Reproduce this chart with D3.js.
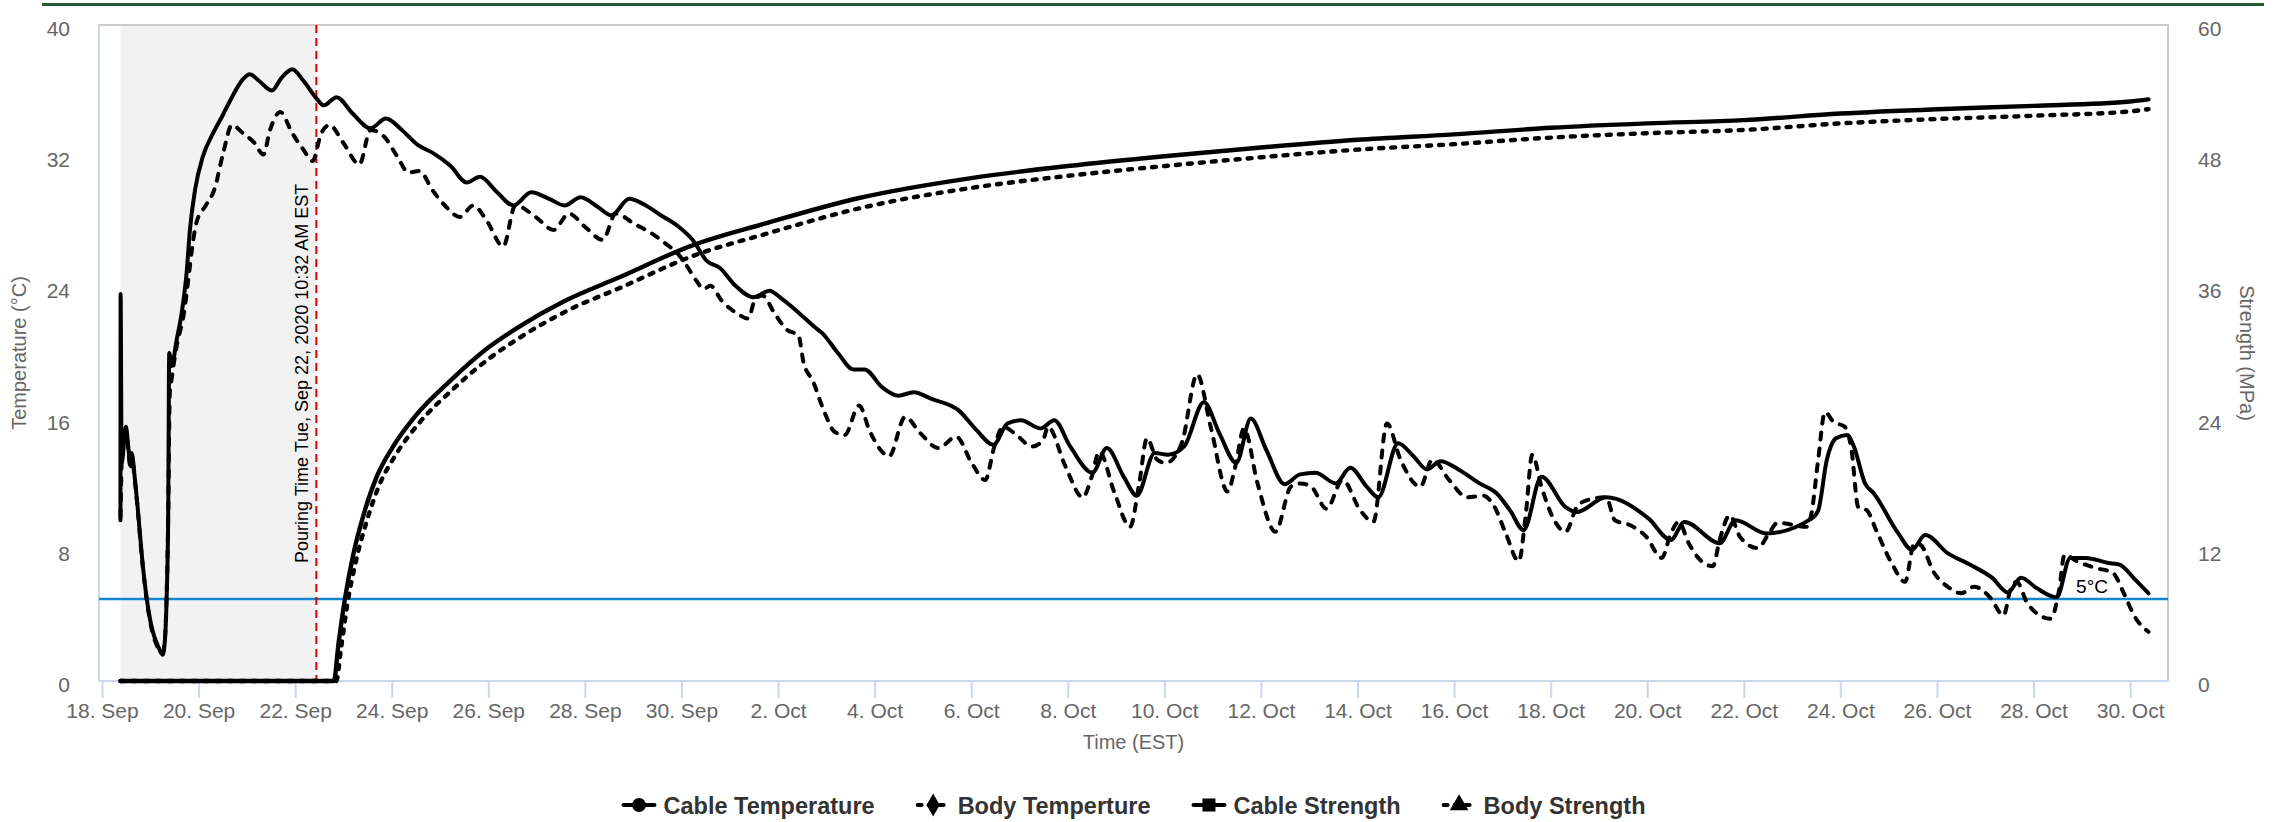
<!DOCTYPE html>
<html><head><meta charset="utf-8">
<script src="https://cdn.jsdelivr.net/npm/d3@7/dist/d3.min.js"></script>
<style>
html,body{margin:0;padding:0;background:#fff;}
svg{display:block;font-family:"Liberation Sans",Arial,Helvetica,sans-serif;}
</style></head><body>
<svg id="chart" width="2286" height="822"></svg>
<script>
// ---------------- DATA ----------------
const xTickDates = ["2020-09-18","2020-09-20","2020-09-22","2020-09-24","2020-09-26","2020-09-28","2020-09-30",
  "2020-10-02","2020-10-04","2020-10-06","2020-10-08","2020-10-10","2020-10-12","2020-10-14","2020-10-16",
  "2020-10-18","2020-10-20","2020-10-22","2020-10-24","2020-10-26","2020-10-28","2020-10-30"];
const xDomain = ["2020-09-17 22:30", "2020-10-30 18:50"];
const tempTicks = [0, 8, 16, 24, 32, 40];
const strengthTicks = [0, 12, 24, 36, 48, 60];
const seriesNames = ["Cable Temperature", "Body Temperture", "Cable Strength", "Body Strength"];
const pouringTime = "2020-09-22 10:32";
const pouringLabel = "Pouring Time Tue, Sep 22, 2020 10:32 AM EST";
const bandStart = "2020-09-18 09:10";
const thresholdTemp = 5;
const thresholdLabel = "5°C";

const cableTemperature = [
["2020-09-18 09:10",9.8],["2020-09-18 09:14",23.6],["2020-09-18 09:45",13.3],["2020-09-18 11:53",15.5],
["2020-09-18 13:02",14.3],["2020-09-18 14:12",13.1],["2020-09-18 14:43",13.9],["2020-09-18 16:21",12.3],
["2020-09-18 18:00",10.2],["2020-09-18 19:41",7.8],["2020-09-18 22:09",5.1],["2020-09-19 00:39",3.3],
["2020-09-19 03:56",2.1],["2020-09-19 06:07",1.6],["2020-09-19 07:16",2.5],["2020-09-19 08:07",5.1],
["2020-09-19 08:54",10.2],["2020-09-19 09:24",20.0],["2020-09-19 10:35",19.2],["2020-09-19 13:05",20.8],
["2020-09-19 15:33",22.4],["2020-09-19 18:03",24.9],["2020-09-19 19:41",27.5],["2020-09-19 22:19",30.0],
["2020-09-20 02:10",32.0],["2020-09-20 07:12",33.4],["2020-09-20 12:00",34.5],["2020-09-20 16:34",35.6],
["2020-09-20 22:05",36.7],["2020-09-21 01:26",37.0],["2020-09-21 06:00",36.6],["2020-09-21 12:29",36.0],
["2020-09-21 17:02",36.75],["2020-09-21 22:34",37.3],["2020-09-22 04:05",36.6],["2020-09-22 10:48",35.5],
["2020-09-22 14:10",35.1],["2020-09-22 20:38",35.6],["2020-09-23 04:34",34.6],["2020-09-23 13:26",33.7],
["2020-09-23 21:07",34.3],["2020-09-24 05:02",33.6],["2020-09-24 12:43",32.7],["2020-09-24 20:24",32.2],
["2020-09-25 05:17",31.4],["2020-09-25 13:12",30.4],["2020-09-25 19:55",30.75],["2020-09-26 03:36",29.9],
["2020-09-26 12:29",29.0],["2020-09-26 21:22",29.8],["2020-09-27 06:14",29.4],["2020-09-27 13:55",29.0],
["2020-09-27 21:50",29.5],["2020-09-28 06:29",28.9],["2020-09-28 13:12",28.4],["2020-09-28 22:05",29.4],
["2020-09-29 04:48",29.1],["2020-09-29 13:41",28.4],["2020-09-29 22:34",27.7],["2020-09-30 05:31",26.9],
["2020-09-30 12:43",25.6],["2020-09-30 18:58",25.2],["2020-10-01 02:53",24.1],["2020-10-01 11:46",23.4],
["2020-10-01 19:41",23.8],["2020-10-02 01:55",23.3],["2020-10-02 10:48",22.4],["2020-10-02 18:00",21.6],
["2020-10-02 22:05",21.2],["2020-10-03 05:46",20.0],["2020-10-03 13:26",19.0],["2020-10-03 18:58",19.0],
["2020-10-04 03:50",17.9],["2020-10-04 11:46",17.4],["2020-10-04 19:26",17.6],["2020-10-05 04:19",17.2],
["2020-10-05 17:46",16.5],["2020-10-06 02:38",15.3],["2020-10-06 11:02",14.4],["2020-10-06 18:00",15.7],
["2020-10-07 00:43",15.9],["2020-10-07 10:34",15.4],["2020-10-07 17:17",15.9],["2020-10-08 01:12",14.3],
["2020-10-08 12:14",12.7],["2020-10-08 19:26",14.2],["2020-10-09 03:50",12.45],["2020-10-09 10:19",11.3],
["2020-10-09 19:12",13.9],["2020-10-10 01:55",13.8],["2020-10-10 09:50",14.3],["2020-10-10 19:41",17.0],
["2020-10-11 03:22",15.1],["2020-10-11 11:46",13.3],["2020-10-11 18:58",16.0],["2020-10-12 02:38",14.1],
["2020-10-12 11:46",12.0],["2020-10-12 19:26",12.6],["2020-10-13 03:07",12.7],["2020-10-13 13:12",12.05],
["2020-10-13 20:24",13.0],["2020-10-14 04:34",11.85],["2020-10-14 10:19",11.2],["2020-10-14 20:10",14.5],
["2020-10-15 03:50",13.7],["2020-10-15 10:34",12.9],["2020-10-15 17:17",13.4],["2020-10-16 02:10",12.9],
["2020-10-16 12:43",12.05],["2020-10-16 21:07",11.45],["2020-10-17 03:50",10.4],["2020-10-17 10:34",9.2],
["2020-10-17 19:26",12.45],["2020-10-18 07:26",10.6],["2020-10-18 12:58",10.3],["2020-10-19 03:36",11.2],
["2020-10-20 00:43",9.9],["2020-10-20 11:46",8.6],["2020-10-20 18:29",9.7],["2020-10-21 12:00",8.4],
["2020-10-21 19:55",9.8],["2020-10-22 11:17",9.0],["2020-10-23 09:36",9.9],["2020-10-23 12:58",10.4],
["2020-10-23 17:17",13.5],["2020-10-23 21:50",14.8],["2020-10-24 03:22",15.0],["2020-10-24 06:43",14.3],
["2020-10-24 12:14",12.05],["2020-10-24 16:34",11.45],["2020-10-25 04:48",9.0],["2020-10-25 11:31",8.0],
["2020-10-25 18:14",8.9],["2020-10-26 05:17",7.8],["2020-10-26 16:19",7.1],["2020-10-27 03:22",6.3],
["2020-10-27 11:17",5.4],["2020-10-27 17:46",6.3],["2020-10-28 01:41",5.65],["2020-10-28 11:31",5.1],
["2020-10-28 18:14",7.5],["2020-10-29 01:55",7.5],["2020-10-29 13:12",7.2],["2020-10-29 18:43",7.1],
["2020-10-30 02:24",6.2],["2020-10-30 09:07",5.35]
];

const bodyTemperature = [
["2020-09-18 09:10",10.0],["2020-09-18 10:20",15.0],["2020-09-18 11:53",15.2],["2020-09-18 13:02",14.1],
["2020-09-18 14:12",13.0],["2020-09-18 14:43",13.7],["2020-09-18 16:21",12.2],["2020-09-18 18:00",10.1],
["2020-09-18 19:41",7.7],["2020-09-18 22:09",5.0],["2020-09-19 00:39",3.2],["2020-09-19 03:56",2.0],
["2020-09-19 06:07",1.7],["2020-09-19 07:16",2.6],["2020-09-19 08:07",5.2],["2020-09-19 08:54",10.0],
["2020-09-19 09:40",17.5],["2020-09-19 10:35",18.4],["2020-09-19 13:05",20.4],["2020-09-19 16:48",22.5],
["2020-09-19 19:12",24.8],["2020-09-19 20:53",26.5],["2020-09-19 23:02",28.0],["2020-09-20 03:36",29.0],
["2020-09-20 07:55",30.0],["2020-09-20 12:14",32.2],["2020-09-20 16:34",33.9],["2020-09-20 22:05",33.4],
["2020-09-21 03:50",32.8],["2020-09-21 08:10",32.1],["2020-09-21 11:31",33.6],["2020-09-21 16:34",34.7],
["2020-09-21 22:34",33.4],["2020-09-22 04:05",32.4],["2020-09-22 08:38",31.7],["2020-09-22 12:58",33.4],
["2020-09-22 17:02",33.9],["2020-09-23 00:00",32.8],["2020-09-23 07:55",31.5],["2020-09-23 13:26",33.6],
["2020-09-23 20:10",33.2],["2020-09-24 02:38",32.0],["2020-09-24 08:24",31.0],["2020-09-24 13:41",31.1],
["2020-09-24 20:24",29.9],["2020-09-25 03:07",28.9],["2020-09-25 09:50",28.3],["2020-09-25 16:34",29.0],
["2020-09-25 23:02",28.1],["2020-09-26 07:26",26.5],["2020-09-26 13:26",29.0],["2020-09-26 23:31",28.3],
["2020-09-27 08:24",27.5],["2020-09-27 16:05",28.5],["2020-09-28 00:00",27.7],["2020-09-28 08:53",26.9],
["2020-09-28 15:22",28.5],["2020-09-29 00:14",27.9],["2020-09-29 10:19",27.2],["2020-09-29 15:50",26.7],
["2020-09-29 22:34",26.0],["2020-09-30 02:10",25.4],["2020-09-30 07:26",24.4],["2020-09-30 11:02",23.9],
["2020-09-30 14:24",24.1],["2020-09-30 19:55",23.2],["2020-10-01 03:50",22.4],["2020-10-01 09:07",22.1],
["2020-10-01 12:43",23.3],["2020-10-01 16:19",23.5],["2020-10-01 22:19",22.4],["2020-10-02 04:34",21.4],
["2020-10-02 10:05",21.1],["2020-10-02 12:43",19.4],["2020-10-02 17:17",18.3],["2020-10-02 23:02",16.4],
["2020-10-03 04:05",15.2],["2020-10-03 09:07",15.0],["2020-10-03 16:19",16.8],["2020-10-03 21:22",15.3],
["2020-10-04 02:53",14.1],["2020-10-04 07:12",13.7],["2020-10-04 15:07",16.1],["2020-10-04 22:48",15.1],
["2020-10-05 07:41",14.2],["2020-10-05 16:34",14.9],["2020-10-06 00:14",13.3],["2020-10-06 06:58",12.25],
["2020-10-06 11:31",14.3],["2020-10-06 15:50",15.5],["2020-10-06 21:36",15.1],["2020-10-07 06:14",14.3],
["2020-10-07 11:46",14.7],["2020-10-07 14:10",15.5],["2020-10-07 22:48",13.1],["2020-10-08 07:26",11.2],
["2020-10-08 12:00",12.5],["2020-10-08 15:36",14.0],["2020-10-08 23:17",11.45],["2020-10-09 06:58",9.4],
["2020-10-09 11:31",12.05],["2020-10-09 15:22",14.8],["2020-10-09 20:24",13.5],["2020-10-10 00:43",13.3],
["2020-10-10 08:38",14.5],["2020-10-10 16:19",18.7],["2020-10-10 23:02",15.5],["2020-10-11 07:26",11.55],
["2020-10-11 11:17",13.1],["2020-10-11 15:36",15.4],["2020-10-11 22:19",12.05],["2020-10-12 07:12",9.1],
["2020-10-12 14:53",11.85],["2020-10-12 19:26",12.05],["2020-10-13 00:58",11.85],["2020-10-13 08:38",10.5],
["2020-10-13 16:34",12.25],["2020-10-14 01:26",10.4],["2020-10-14 07:55",9.7],["2020-10-14 14:38",15.7],
["2020-10-14 21:22",13.5],["2020-10-15 07:12",11.85],["2020-10-15 13:12",13.5],["2020-10-15 21:36",12.25],
["2020-10-16 06:29",11.2],["2020-10-16 14:24",11.3],["2020-10-16 20:10",10.6],["2020-10-17 01:41",9.0],
["2020-10-17 08:10",7.3],["2020-10-17 11:31",10.0],["2020-10-17 14:53",13.8],["2020-10-17 19:26",11.85],
["2020-10-18 00:58",10.0],["2020-10-18 07:26",9.1],["2020-10-18 12:58",10.6],["2020-10-18 17:31",11.0],
["2020-10-19 03:36",11.2],["2020-10-19 07:55",9.8],["2020-10-19 15:36",9.5],["2020-10-19 23:31",8.8],
["2020-10-20 07:12",7.5],["2020-10-20 11:46",9.0],["2020-10-20 15:36",9.7],["2020-10-20 20:38",8.4],
["2020-10-21 02:10",7.4],["2020-10-21 08:38",7.0],["2020-10-21 12:00",8.6],["2020-10-21 17:02",10.1],
["2020-10-21 22:05",8.8],["2020-10-22 06:58",8.1],["2020-10-22 12:29",9.0],["2020-10-22 16:48",9.65],
["2020-10-23 07:26",9.4],["2020-10-23 09:36",10.2],["2020-10-23 12:58",13.5],["2020-10-23 16:19",16.4],
["2020-10-23 20:38",15.8],["2020-10-24 02:10",15.5],["2020-10-24 05:31",14.1],["2020-10-24 08:53",10.6],
["2020-10-24 13:12",10.4],["2020-10-24 17:46",9.2],["2020-10-25 01:26",7.2],["2020-10-25 08:10",6.05],
["2020-10-25 12:43",8.4],["2020-10-25 15:50",8.3],["2020-10-25 22:34",6.6],["2020-10-26 05:17",5.75],
["2020-10-26 12:00",5.35],["2020-10-26 18:29",5.75],["2020-10-27 02:24",5.1],["2020-10-27 09:07",4.0],
["2020-10-27 12:29",5.55],["2020-10-27 15:36",6.05],["2020-10-27 21:07",4.7],["2020-10-28 08:24",3.8],
["2020-10-28 12:43",5.55],["2020-10-28 15:22",7.7],["2020-10-28 21:36",7.3],["2020-10-29 06:29",6.9],
["2020-10-29 15:22",6.6],["2020-10-29 20:53",5.35],["2020-10-30 02:24",3.9],["2020-10-30 09:07",3.0]
];

const cableStrength = [
["2020-09-18 09:10",0],["2020-09-22 19:12",0],["2020-09-22 21:36",3.5],["2020-09-23 00:43",7.5],
["2020-09-23 04:48",11.5],["2020-09-23 10:19",15.4],["2020-09-23 16:48",18.8],["2020-09-24 00:29",21.4],
["2020-09-24 12:00",24.3],["2020-09-25 05:17",27.5],["2020-09-26 00:00",30.5],["2020-09-26 14:24",32.3],
["2020-09-27 14:24",34.8],["2020-09-28 16:48",36.9],["2020-09-30 04:48",39.8],["2020-10-01 16:48",41.8],
["2020-10-03 16:48",44.2],["2020-10-06 00:00",46.0],["2020-10-08 00:00",47.1],["2020-10-10 00:00",48.0],
["2020-10-12 00:00",48.8],["2020-10-14 00:00",49.5],["2020-10-16 00:00",50.0],["2020-10-18 00:00",50.6],
["2020-10-20 00:00",51.0],["2020-10-22 00:00",51.3],["2020-10-24 00:00",51.9],["2020-10-26 00:00",52.3],
["2020-10-28 00:00",52.6],["2020-10-30 00:00",53.0],["2020-10-30 09:07",53.2]
];

const bodyStrength = [
["2020-09-18 09:10",0],["2020-09-22 20:24",0],["2020-09-22 22:48",3.0],["2020-09-23 01:55",7.0],
["2020-09-23 06:00",10.8],["2020-09-23 11:31",14.6],["2020-09-23 18:00",18.0],["2020-09-24 01:41",20.6],
["2020-09-24 13:12",23.5],["2020-09-25 06:29",26.7],["2020-09-26 01:12",29.6],["2020-09-26 15:36",31.4],
["2020-09-27 15:36",33.9],["2020-09-28 18:00",36.0],["2020-09-30 06:00",38.9],["2020-10-01 18:00",40.9],
["2020-10-03 18:00",43.3],["2020-10-06 00:00",45.1],["2020-10-08 00:00",46.2],["2020-10-10 00:00",47.1],
["2020-10-12 00:00",47.9],["2020-10-14 00:00",48.6],["2020-10-16 00:00",49.1],["2020-10-18 00:00",49.7],
["2020-10-20 00:00",50.1],["2020-10-22 00:00",50.4],["2020-10-24 00:00",51.0],["2020-10-26 00:00",51.4],
["2020-10-28 00:00",51.7],["2020-10-30 00:00",52.1],["2020-10-30 09:07",52.3]
];

// ---------------- CHART ----------------
const parseT = d3.timeParse("%Y-%m-%d %H:%M");
const parseD = d3.timeParse("%Y-%m-%d");
const svg = d3.select("#chart");
const P = {left: 99, right: 2168, top: 25, bottom: 681};

const x = d3.scaleTime().domain(xDomain.map(parseT)).range([P.left, P.right]);
const yT = d3.scaleLinear().domain([0, 40]).range([P.bottom, P.top]);
const yS = d3.scaleLinear().domain([0, 60]).range([P.bottom, P.top]);

// top green rule
svg.append("rect").attr("x", 42).attr("y", 3).attr("width", 2222).attr("height", 3).attr("fill", "#215b38");

// plot band (before pouring)
svg.append("rect")
  .attr("x", x(parseT(bandStart))).attr("y", P.top)
  .attr("width", x(parseT(pouringTime)) - x(parseT(bandStart)))
  .attr("height", P.bottom - P.top).attr("fill", "#f2f2f2");

// plot border
svg.append("path")
  .attr("d", `M${P.left},${P.bottom}V${P.top}H${P.right}V${P.bottom}`)
  .attr("fill", "none").attr("stroke", "#cccccc").attr("stroke-width", 2);
svg.append("line").attr("x1", P.left).attr("x2", P.left).attr("y1", P.top).attr("y2", P.bottom)
  .attr("stroke", "#ccd6eb").attr("stroke-width", 2);

// threshold line
svg.append("line")
  .attr("x1", P.left).attr("x2", P.right)
  .attr("y1", yT(thresholdTemp)).attr("y2", yT(thresholdTemp))
  .attr("stroke", "#1386cf").attr("stroke-width", 2.6);
svg.append("text").attr("x", P.right - 60).attr("y", yT(thresholdTemp) - 6)
  .attr("text-anchor", "end").attr("font-size", 19).attr("fill", "#000").text(thresholdLabel);

// x axis
const xAxis = svg.append("g").attr("transform", `translate(0,${P.bottom})`)
  .call(d3.axisBottom(x).tickValues(xTickDates.map(parseD))
    .tickFormat(d3.timeFormat("%-d. %b")).tickSize(17).tickPadding(5));
xAxis.select(".domain").remove();
xAxis.selectAll(".tick line").attr("stroke", "#ccd6eb").attr("stroke-width", 2);
xAxis.selectAll(".tick text").attr("fill", "#666666").attr("font-size", 21)
  .attr("font-family", "Liberation Sans, Arial, sans-serif");
svg.append("line").attr("x1", P.left).attr("x2", P.right).attr("y1", P.bottom).attr("y2", P.bottom)
  .attr("stroke", "#ccd6eb").attr("stroke-width", 2);

// y axes
const yAxisL = svg.append("g").attr("transform", `translate(${P.left - 29},0)`)
  .call(d3.axisLeft(yT).tickValues(tempTicks).tickSize(0).tickPadding(0));
yAxisL.select(".domain").remove();
yAxisL.selectAll(".tick text").attr("fill", "#666666").attr("font-size", 21)
  .attr("dy", "0.5em").attr("font-family", "Liberation Sans, Arial, sans-serif");

const yAxisR = svg.append("g").attr("transform", `translate(${P.right + 30},0)`)
  .call(d3.axisRight(yS).tickValues(strengthTicks).tickSize(0).tickPadding(0));
yAxisR.select(".domain").remove();
yAxisR.selectAll(".tick text").attr("fill", "#666666").attr("font-size", 21)
  .attr("dy", "0.5em").attr("font-family", "Liberation Sans, Arial, sans-serif");

// axis titles
const midY = (P.top + P.bottom) / 2;
svg.append("text").attr("transform", `translate(26,${midY}) rotate(-90)`)
  .attr("text-anchor", "middle").attr("font-size", 20).attr("fill", "#666666").text("Temperature (°C)");
svg.append("text").attr("transform", `translate(2240,${midY}) rotate(90)`)
  .attr("text-anchor", "middle").attr("font-size", 20).attr("fill", "#666666").text("Strength (MPa)");
svg.append("text").attr("x", (P.left + P.right) / 2).attr("y", 749)
  .attr("text-anchor", "middle").attr("font-size", 20).attr("fill", "#666666").text("Time (EST)");

// pouring line
const px = x(parseT(pouringTime));
svg.append("line").attr("x1", px).attr("x2", px).attr("y1", P.top).attr("y2", P.bottom)
  .attr("stroke", "#e00000").attr("stroke-width", 2).attr("stroke-dasharray", "8,5");
svg.append("text").attr("transform", `translate(${px - 8},563) rotate(-90)`)
  .attr("font-size", 18).attr("fill", "#000").text(pouringLabel);

// series
const styles = [
  {data: cableTemperature, y: yT, dash: null, width: 4},
  {data: bodyTemperature, y: yT, dash: "7,9", width: 4},
  {data: cableStrength, y: yS, dash: null, width: 4.4},
  {data: bodyStrength, y: yS, dash: "4,8", width: 4.4}
];
const order = [2, 3, 0, 1];
order.forEach(i => {
  const s = styles[i];
  const line = d3.line().x(d => x(parseT(d[0]))).y(d => s.y(d[1])).curve(d3.curveMonotoneX);
  svg.append("path").datum(s.data).attr("d", line)
    .attr("fill", "none").attr("stroke", "#000").attr("stroke-width", s.width)
    .attr("stroke-linejoin", "round").attr("stroke-linecap", "round")
    .attr("stroke-dasharray", s.dash);
});

// legend
const legend = svg.append("g");
const markers = [d3.symbolCircle, d3.symbolDiamond, d3.symbolSquare, d3.symbolTriangle];
const markerSizes = [150, 150, 170, 150];
const legDash = [null, "4,7", null, "4,7"];
let cursor = 0;
const items = [];
seriesNames.forEach((name, i) => {
  const g = legend.append("g");
  g.append("line").attr("x1", 2).attr("x2", 33).attr("y1", 0).attr("y2", 0)
    .attr("stroke", "#000").attr("stroke-width", 4).attr("stroke-linecap", "round")
    .attr("stroke-dasharray", legDash[i]);
  g.append("path").attr("d", d3.symbol().type(markers[i]).size(markerSizes[i])())
    .attr("transform", "translate(17.5,0)").attr("fill", "#000");
  const t = g.append("text").attr("x", 42).attr("y", 8.5).attr("font-size", 23.5)
    .attr("font-weight", "bold").attr("fill", "#333333").text(name);
  const w = 42 + t.node().getComputedTextLength();
  items.push({g, start: cursor});
  cursor += w + 41;
});
const totalW = cursor - 41;
const lx0 = (P.left + P.right) / 2 - totalW / 2;
items.forEach(it => it.g.attr("transform", `translate(${lx0 + it.start},805)`));
</script>
</body></html>
